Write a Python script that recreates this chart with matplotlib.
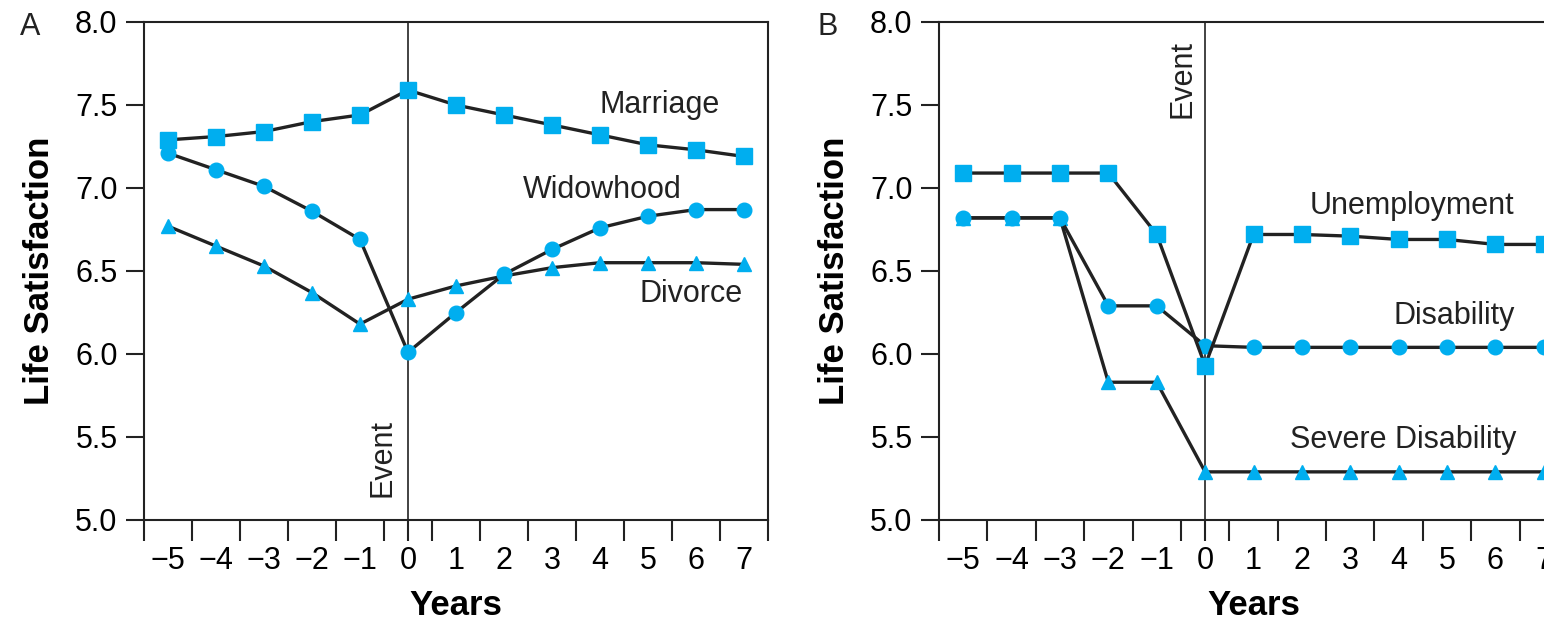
import matplotlib.pyplot as plt
from matplotlib.ticker import FixedLocator

plt.rcParams['font.family'] = ['Liberation Sans', 'DejaVu Sans']

years = [-5, -4, -3, -2, -1, 0, 1, 2, 3, 4, 5, 6, 7]

# panel A
marriage = [7.29, 7.31, 7.34, 7.40, 7.44, 7.59, 7.50, 7.44, 7.38, 7.32, 7.26, 7.23, 7.19]
widowhood = [7.21, 7.11, 7.01, 6.86, 6.69, 6.01, 6.25, 6.48, 6.63, 6.76, 6.83, 6.87, 6.87]
divorce = [6.77, 6.65, 6.53, 6.37, 6.18, 6.33, 6.41, 6.47, 6.52, 6.55, 6.55, 6.55, 6.54]

# panel B
unemployment = [7.09, 7.09, 7.09, 7.09, 6.72, 5.93, 6.72, 6.72, 6.71, 6.69, 6.69, 6.66, 6.66]
disability = [6.82, 6.82, 6.82, 6.29, 6.29, 6.05, 6.04, 6.04, 6.04, 6.04, 6.04, 6.04, 6.04]
severe = [6.82, 6.82, 6.82, 5.83, 5.83, 5.29, 5.29, 5.29, 5.29, 5.29, 5.29, 5.29, 5.29]

blue = '#00aeef'
ink = '#222222'
FS = 22

fig = plt.figure(figsize=(15.44, 6.24), dpi=100)
axA = fig.add_axes([144 / 1544, 1 - 520 / 624, 624 / 1544, 498 / 624])
axB = fig.add_axes([939 / 1544, 1 - 520 / 624, 629 / 1544, 498 / 624])


def style(ax):
    ax.set_xlim(-5.5, 7.5)
    ax.set_ylim(5.0, 8.0)
    ax.set_yticks([5.0, 5.5, 6.0, 6.5, 7.0, 7.5, 8.0])
    ax.set_yticklabels(['5.0', '5.5', '6.0', '6.5', '7.0', '7.5', '8.0'])
    ax.set_xticks(years)
    ax.xaxis.set_minor_locator(FixedLocator([y - 0.5 for y in years] + [0, 7.5]))
    ax.xaxis.remove_overlapping_locs = False
    ax.tick_params(axis='x', which='major', length=0, pad=19, labelsize=FS)
    ax.tick_params(axis='x', which='minor', length=15, width=1.5, color=ink)
    ax.tick_params(axis='y', length=13, width=1.5, color=ink, pad=6, labelsize=FS)
    for s in ax.spines.values():
        s.set_linewidth(1.5)
        s.set_color(ink)
    ax.axvline(0, color=ink, lw=1.2, zorder=1)
    ax.set_xlabel('Years', fontsize=25, fontweight='bold', labelpad=9)
    ax.set_ylabel('Life Satisfaction', fontsize=25, fontweight='bold', labelpad=14)


def series(ax, vals, marker, ms):
    ax.plot(years, vals, color=ink, lw=2.4, marker=marker, markersize=ms,
            markerfacecolor=blue, markeredgecolor=blue, zorder=3)


style(axA)
series(axA, divorce, '^', 10.5)
series(axA, widowhood, 'o', 10.5)
series(axA, marriage, 's', 11.5)
axA.text(5.24, 7.5, 'Marriage', fontsize=FS, ha='center', va='center', color=ink)
axA.text(4.05, 6.99, 'Widowhood', fontsize=FS, ha='center', va='center', color=ink)
axA.text(5.9, 6.36, 'Divorce', fontsize=FS, ha='center', va='center', color=ink)
axA.text(-0.53, 5.14, 'Event', fontsize=FS, rotation=90, ha='center', va='bottom', color=ink)

style(axB)
series(axB, severe, '^', 10.5)
series(axB, disability, 'o', 10.5)
series(axB, unemployment, 's', 11.5)
axB.text(4.27, 6.89, 'Unemployment', fontsize=FS, ha='center', va='center', color=ink)
axB.text(5.14, 6.23, 'Disability', fontsize=FS, ha='center', va='center', color=ink)
axB.text(4.1, 5.48, 'Severe Disability', fontsize=FS, ha='center', va='center', color=ink)
axB.text(-0.47, 7.42, 'Event', fontsize=FS, rotation=90, ha='center', va='bottom', color=ink)

fig.text(30 / 1544, 1 - 27 / 624, 'A', fontsize=FS, ha='center', va='center', color=ink)
fig.text(828 / 1544, 1 - 27 / 624, 'B', fontsize=FS, ha='center', va='center', color=ink)

fig.savefig('out.png', dpi=100)
